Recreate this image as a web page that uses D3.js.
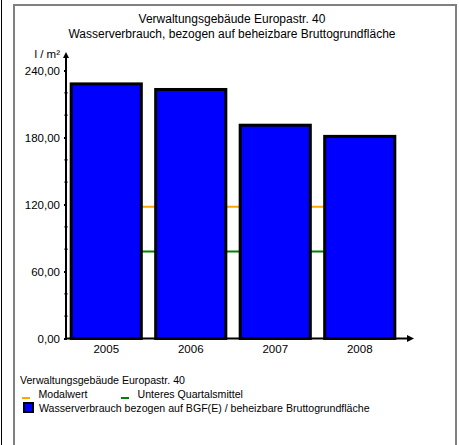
<!DOCTYPE html>
<html><head><meta charset="utf-8">
<script src="https://cdn.jsdelivr.net/npm/d3@7"></script>
<style>body{margin:0;background:#fff}svg{display:block}text{font-family:"Liberation Sans",Arial,sans-serif;fill:#000}</style>
</head><body>
<svg id="c" width="459" height="445"></svg>
<script>
const years = ["2005","2006","2007","2008"];
const waterUse = [228, 223, 191, 181];
const modalwert = [118, 118, 118, 118];
const unteresQuartal = [78, 78, 78, 78];
const yTicks = [0, 60, 120, 180, 240];
const yMinorTicks = [20, 40, 80, 100, 140, 160, 200, 220];
const titleLines = ["Verwaltungsgebäude Europastr. 40", "Wasserverbrauch, bezogen auf beheizbare Bruttogrundfläche"];
const legendTitle = "Verwaltungsgebäude Europastr. 40";
const legendLines = ["Modalwert", "Unteres Quartalsmittel"];
const legendBar = "Wasserverbrauch bezogen auf BGF(E) / beheizbare Bruttogrundfläche";
const fmt = v => d3.format(".2f")(v).replace(".", ",");

const svg = d3.select("#c");
// outer lines
svg.append("line").attr("x1",1.5).attr("x2",1.5).attr("y1",0).attr("y2",445).attr("stroke","#000").attr("stroke-width",1);
svg.append("rect").attr("x",14).attr("y",5).attr("width",442).attr("height",460)
  .attr("fill","none").attr("stroke","#808080").attr("stroke-width",2);

// titles
svg.selectAll("text.title").data(titleLines).join("text").attr("class","title")
  .attr("x",232).attr("y",(d,i)=>22.5+i*15).attr("text-anchor","middle").attr("font-size","12px").text(d=>d);

const x = d3.scaleBand().domain(years).range([64,402]).paddingInner(0.17).paddingOuter(0.085);
const y = d3.scaleLinear().domain([0,240]).range([338.5,70.5]);

// reference lines (behind bars)
const lineGen = d3.line().x((d,i)=>x(years[i])+x.bandwidth()/2).y(d=>y(d));
svg.append("path").datum(modalwert).attr("d",lineGen).attr("fill","none").attr("stroke","#FFA500").attr("stroke-width",2);
svg.append("path").datum(unteresQuartal).attr("d",lineGen).attr("fill","none").attr("stroke","#008000").attr("stroke-width",2);

// bars
svg.selectAll("rect.bar").data(waterUse).join("rect").attr("class","bar")
  .attr("x",(d,i)=>x(years[i])).attr("width",x.bandwidth())
  .attr("y",d=>y(d)).attr("height",d=>y(0)-y(d))
  .attr("fill","#0000FF").attr("stroke","#000").attr("stroke-width",3);

// y axis
const ax = 66;
const yAxis = d3.axisLeft(y).tickValues(yTicks).tickFormat(fmt).tickSize(3).tickPadding(3);
const gy = svg.append("g").attr("transform",`translate(${ax},0)`).call(yAxis);
gy.select(".domain").remove();
gy.selectAll(".tick line").attr("stroke","#000").attr("stroke-width",2).attr("x2",1).attr("x1",-2);
gy.selectAll(".tick text").attr("font-size","11.5px").attr("font-family","Liberation Sans, Arial, sans-serif").attr("fill","#000").attr("x",-6);
svg.selectAll("line.minor").data(yMinorTicks).join("line").attr("class","minor")
  .attr("x1",ax-1.5).attr("x2",ax+1.5).attr("y1",d=>y(d)).attr("y2",d=>y(d)).attr("stroke","#000").attr("stroke-width",1.5);
svg.append("line").attr("x1",ax).attr("x2",ax).attr("y1",y(0)+1).attr("y2",57).attr("stroke","#000").attr("stroke-width",2);
svg.append("path").attr("d",`M${ax-3},58 L${ax},52 L${ax+3},58 Z`).attr("fill","#000");
svg.append("text").attr("x",60).attr("y",58).attr("text-anchor","end").attr("font-size","11.5px").text("l / m²");

// x axis
const xAxis = d3.axisBottom(x).tickSize(0).tickPadding(6);
const gx = svg.append("g").attr("transform",`translate(0,${y(0)})`).call(xAxis);
gx.select(".domain").remove();
gx.selectAll(".tick text").attr("font-size","11.5px").attr("font-family","Liberation Sans, Arial, sans-serif").attr("fill","#000");
svg.append("line").attr("x1",ax).attr("x2",408).attr("y1",y(0)).attr("y2",y(0)).attr("stroke","#000").attr("stroke-width",2);
svg.append("path").attr("d",`M407,${y(0)-3.5} L414,${y(0)} L407,${y(0)+3.5} Z`).attr("fill","#000");

// legend
svg.append("text").attr("x",20).attr("y",384).attr("font-size","10.6px").text(legendTitle);
const legColors = ["#FFA500","#008000"];
const legX = [22, 121];
legendLines.forEach((t,i)=>{
  svg.append("line").attr("x1",legX[i]).attr("x2",legX[i]+8).attr("y1",398).attr("y2",398).attr("stroke",legColors[i]).attr("stroke-width",2);
  svg.append("text").attr("x",legX[i]+16.5).attr("y",397.5).attr("font-size","10.6px").text(t);
});
svg.append("rect").attr("x",24).attr("y",403).attr("width",9).attr("height",9).attr("fill","#0000FF").attr("stroke","#000").attr("stroke-width",2);
svg.append("text").attr("x",39).attr("y",411.5).attr("font-size","10.6px").text(legendBar);
</script>
</body></html>
